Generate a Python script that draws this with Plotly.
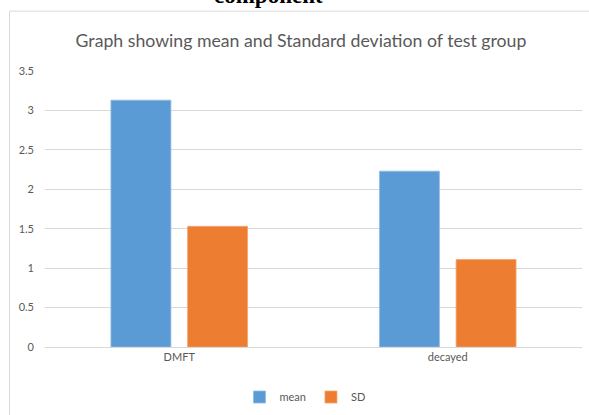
import plotly.graph_objects as go

categories = ["DMFT", "decayed"]
mean_values = [3.13, 2.23]
sd_values = [1.53, 1.11]
y_ticks = [0, 0.5, 1, 1.5, 2, 2.5, 3, 3.5]
y_tick_labels = ["0", "0.5", "1", "1.5", "2", "2.5", "3", "3.5"]

W, H = 589, 415
L, R, T, B = 45, 7, 70.7, 67.7
plot_w = W - L - R
plot_h = H - T - B

def px_x(x):
    return (x - L) / plot_w

def px_y(y):
    return (H - B - y) / plot_h

FONT = "Lato, Calibri, 'Open Sans', sans-serif"
GRAY = "#595959"

fig = go.Figure()
fig.add_trace(go.Bar(name="mean", x=categories, y=mean_values,
                     marker=dict(color="#5B9BD5", line=dict(color="#8fbbe3", width=0.8))))
fig.add_trace(go.Bar(name="SD", x=categories, y=sd_values,
                     marker=dict(color="#ED7D31", line=dict(color="#f3a56f", width=0.8))))

fig.update_layout(
    width=W, height=H,
    margin=dict(l=L, r=R, t=T, b=B, pad=0, autoexpand=False),
    paper_bgcolor="white", plot_bgcolor="white",
    barmode="group", bargap=0.429, bargroupgap=0.218,
    font=dict(family=FONT, color=GRAY, size=12),
    title=dict(text="Graph showing mean and Standard deviation of test group",
               x=301 / W, xanchor="center", y=1 - 41 / H, yanchor="middle",
               font=dict(family=FONT, size=17.7, color=GRAY)),
    xaxis=dict(showgrid=False, showline=True, linecolor="#d9d9d9", linewidth=1,
               ticks="", tickfont=dict(size=11, color=GRAY), automargin=False),
    yaxis=dict(range=[0, 3.5], tickvals=y_ticks, ticktext=y_tick_labels,
               showgrid=True, gridcolor="#d9d9d9", gridwidth=1,
               zeroline=False, showline=False, ticks="", ticklabelstandoff=10,
               tickfont=dict(size=11, color=GRAY), automargin=False),
    legend=dict(orientation="h", xref="container", yref="container",
                x=305 / W, xanchor="center", y=1 - 397 / H, yanchor="middle",
                font=dict(size=11, color=GRAY), itemwidth=30, traceorder="normal"),
    showlegend=True,
)

fig.add_shape(type="rect", xref="paper", yref="paper",
              x0=px_x(9.5), x1=px_x(620), y0=px_y(440), y1=px_y(10.7),
              line=dict(color="#d9d9d9", width=1), fillcolor="rgba(0,0,0,0)", layer="below")

fig.add_annotation(text="<b>component</b>", xref="paper", yref="paper",
                   x=px_x(268), y=px_y(-5), xanchor="center", yanchor="middle",
                   showarrow=False,
                   font=dict(family="'Liberation Serif', 'Times New Roman', serif", size=23, color="black"))

fig.write_html("out.html", config={"displayModeBar": False},
               post_script="document.body.style.margin='0';document.body.style.overflow='hidden';")
